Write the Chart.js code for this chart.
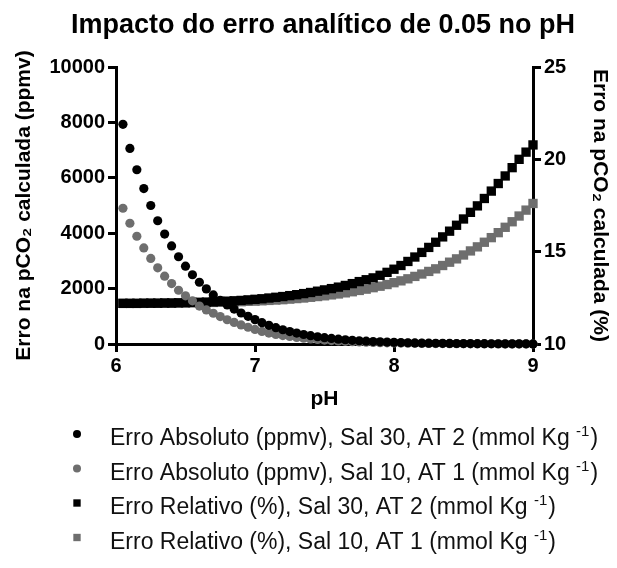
<!DOCTYPE html>
<html>
<head>
<meta charset="utf-8">
<script src="https://cdn.jsdelivr.net/npm/chart.js@4.4.0/dist/chart.umd.min.js"></script>
<style>
  html, body { margin: 0; padding: 0; background: #fff; }
  #wrap { width: 617px; height: 568px; position: relative; }
</style>
</head>
<body>
<div id="wrap"><canvas id="chart"></canvas></div>
<script>
// pH values (x)
const phValues = [
  6.05, 6.10, 6.15, 6.20, 6.25, 6.30, 6.35, 6.40, 6.45, 6.50,
  6.55, 6.60, 6.65, 6.70, 6.75, 6.80, 6.85, 6.90, 6.95, 7.00,
  7.05, 7.10, 7.15, 7.20, 7.25, 7.30, 7.35, 7.40, 7.45, 7.50,
  7.55, 7.60, 7.65, 7.70, 7.75, 7.80, 7.85, 7.90, 7.95, 8.00,
  8.05, 8.10, 8.15, 8.20, 8.25, 8.30, 8.35, 8.40, 8.45, 8.50,
  8.55, 8.60, 8.65, 8.70, 8.75, 8.80, 8.85, 8.90, 8.95, 9.00
];

// Erro absoluto (ppmv), Sal 30, AT 2
const absSal30 = [
  7930, 7060, 6290, 5610, 5000, 4450, 3970, 3540, 3150, 2810,
  2500, 2230, 1990, 1770, 1580, 1410, 1260, 1120, 1000, 880,
  770, 675, 590, 515, 450, 393, 343, 300, 262, 229,
  200, 175, 153, 134, 117, 102, 89, 78, 68, 60,
  52, 46, 40, 35, 31, 27, 24, 21, 18, 16,
  14, 12.5, 11, 9.6, 8.4, 7.4, 6.5, 5.7, 5.0, 4.4
];

// Erro absoluto (ppmv), Sal 10, AT 1
const absSal10 = [
  4900, 4360, 3890, 3470, 3090, 2750, 2450, 2180, 1940, 1740,
  1560, 1370, 1230, 1110, 990, 875, 780, 690, 605, 525,
  455, 395, 345, 305, 270, 238, 210, 185, 163, 143,
  125, 110, 96, 84, 73, 64, 56, 49, 43, 37,
  32, 28, 24, 21, 18, 16, 14, 12, 10, 9,
  8, 7, 6, 5, 4.5, 4, 3.5, 3, 2.6, 2.3
];

// Erro relativo (%), Sal 30, AT 2
const relSal30 = [
  12.20, 12.20, 12.20, 12.21, 12.21, 12.21, 12.22, 12.22, 12.23, 12.24,
  12.25, 12.26, 12.27, 12.28, 12.30, 12.32, 12.34, 12.36, 12.39, 12.42,
  12.45, 12.49, 12.53, 12.57, 12.62, 12.67, 12.73, 12.79, 12.86, 12.93,
  13.00, 13.08, 13.17, 13.27, 13.38, 13.48, 13.58, 13.72, 13.88, 14.05,
  14.25, 14.47, 14.71, 14.96, 15.23, 15.51, 15.80, 16.11, 16.43, 16.77,
  17.13, 17.48, 17.88, 18.28, 18.69, 19.10, 19.55, 20.00, 20.39, 20.78
];

// Erro relativo (%), Sal 10, AT 1
const relSal10 = [
  12.20, 12.20, 12.20, 12.20, 12.21, 12.21, 12.21, 12.21, 12.22, 12.22,
  12.23, 12.23, 12.24, 12.25, 12.26, 12.27, 12.28, 12.29, 12.31, 12.32,
  12.34, 12.36, 12.38, 12.40, 12.43, 12.46, 12.49, 12.53, 12.57, 12.61,
  12.66, 12.71, 12.77, 12.83, 12.90, 12.97, 13.05, 13.13, 13.22, 13.32,
  13.42, 13.53, 13.66, 13.79, 13.93, 14.07, 14.25, 14.43, 14.61, 14.82,
  15.04, 15.26, 15.51, 15.76, 16.03, 16.32, 16.62, 16.93, 17.25, 17.61
];

const seriesLabels = [
  'Erro Absoluto (ppmv), Sal 30, AT 2 (mmol Kg',
  'Erro Absoluto (ppmv), Sal 10, AT 1 (mmol Kg',
  'Erro Relativo (%), Sal 30, AT 2 (mmol Kg',
  'Erro Relativo (%), Sal 10, AT 1 (mmol Kg'
];
const xTicks = [6, 7, 8, 9];
const leftTicks = [0, 2000, 4000, 6000, 8000, 10000];
const rightTicks = [10, 15, 20, 25];

const chartTitle = 'Impacto do erro analítico de 0.05 no pH';
const FONT = '"Liberation Sans", Arial, Helvetica, sans-serif';
const GREY = '#6e6e6e';

Chart.defaults.font.family = FONT;
Chart.defaults.color = '#000';

function points(ys) {
  return phValues.map((x, i) => ({ x: x, y: ys[i] }));
}

// title + legend drawn by hand (left aligned legend with superscripts)
const titleLegend = {
  id: 'titleLegend',
  afterDraw(chart) {
    const ctx = chart.ctx;
    ctx.save();
    ctx.fillStyle = '#000';
    ctx.font = 'bold 27px ' + FONT;
    ctx.textAlign = 'center';
    ctx.textBaseline = 'middle';
    ctx.fillText(chartTitle, 323, 26);

    chart.data.datasets.forEach((ds, i) => {
      const y = 437 + i * 34.5;
      ctx.fillStyle = ds.backgroundColor;
      Chart.helpers.drawPoint(ctx, {
        pointStyle: ds.pointStyle,
        radius: ds.pointStyle === 'rect' ? 5.2 : 4,
        rotation: 0,
        borderWidth: 0
      }, 77, y - 3);

      ctx.fillStyle = '#111';
      ctx.textAlign = 'left';
      ctx.textBaseline = 'alphabetic';
      ctx.font = '23px ' + FONT;
      let x = 110;
      const txt = ds.label + ' ';
      ctx.fillText(txt, x, y + 8);
      x += ctx.measureText(txt).width;
      ctx.font = '15px ' + FONT;
      ctx.fillText('-1', x, y - 1);
      x += ctx.measureText('-1').width + 1;
      ctx.font = '23px ' + FONT;
      ctx.fillText(')', x, y + 8);
    });
    ctx.restore();
  }
};

const tickFont = { size: 20, weight: 'bold' };
const titleFont = { size: 21, weight: 'bold' };
const axisGrid = { drawOnChartArea: false, drawTicks: true, tickLength: 8, tickWidth: 3, tickColor: '#000' };
const axisBorder = { display: true, width: 3, color: '#000' };
const plainLabel = v => String(v);

new Chart(document.getElementById('chart'), {
  type: 'scatter',
  data: {
    datasets: [
      { label: seriesLabels[0], data: points(absSal30), yAxisID: 'y',
        pointStyle: 'circle', pointRadius: 4.6, backgroundColor: '#000', borderWidth: 0 },
      { label: seriesLabels[1], data: points(absSal10), yAxisID: 'y',
        pointStyle: 'circle', pointRadius: 4.6, backgroundColor: GREY, borderWidth: 0 },
      { label: seriesLabels[2], data: points(relSal30), yAxisID: 'y2',
        pointStyle: 'rect', pointRadius: 6.6, backgroundColor: '#000', borderWidth: 0 },
      { label: seriesLabels[3], data: points(relSal10), yAxisID: 'y2',
        pointStyle: 'rect', pointRadius: 6.6, backgroundColor: GREY, borderWidth: 0 }
    ]
  },
  options: {
    responsive: true,
    maintainAspectRatio: false,
    animation: false,
    layout: { padding: { top: 67, bottom: 152, left: 0, right: 0 } },
    plugins: {
      legend: { display: false },
      tooltip: { enabled: false },
      title: { display: false }
    },
    datasets: { scatter: { clip: false } },
    scales: {
      x: {
        type: 'linear', min: 6, max: 9,
        afterBuildTicks: s => { s.ticks = xTicks.map(v => ({ value: v })); },
        afterFit: s => { s.height = 72; },
        ticks: { font: tickFont, color: '#000', padding: 2, callback: plainLabel },
        grid: axisGrid, border: axisBorder,
        title: { display: true, text: 'pH', font: titleFont, color: '#000', padding: { bottom: 4 } }
      },
      y: {
        type: 'linear', position: 'left', min: 0, max: 10000,
        afterBuildTicks: s => { s.ticks = leftTicks.map(v => ({ value: v })); },
        afterFit: s => { s.width = 116; },
        ticks: { font: tickFont, color: '#000', padding: 3, callback: plainLabel },
        grid: axisGrid, border: axisBorder,
        title: { display: true, text: 'Erro na pCO₂ calculada (ppmv)', font: titleFont, color: '#000', padding: { top: 12 } }
      },
      y2: {
        type: 'linear', position: 'right', min: 10, max: 25,
        afterBuildTicks: s => { s.ticks = rightTicks.map(v => ({ value: v })); },
        afterFit: s => { s.width = 84; },
        ticks: { font: tickFont, color: '#000', padding: 3, callback: plainLabel },
        grid: axisGrid, border: axisBorder,
        title: { display: true, text: 'Erro na pCO₂ calculada (%)', font: titleFont, color: '#000', padding: { top: 5 } }
      }
    }
  },
  plugins: [titleLegend]
});
</script>
</body>
</html>
